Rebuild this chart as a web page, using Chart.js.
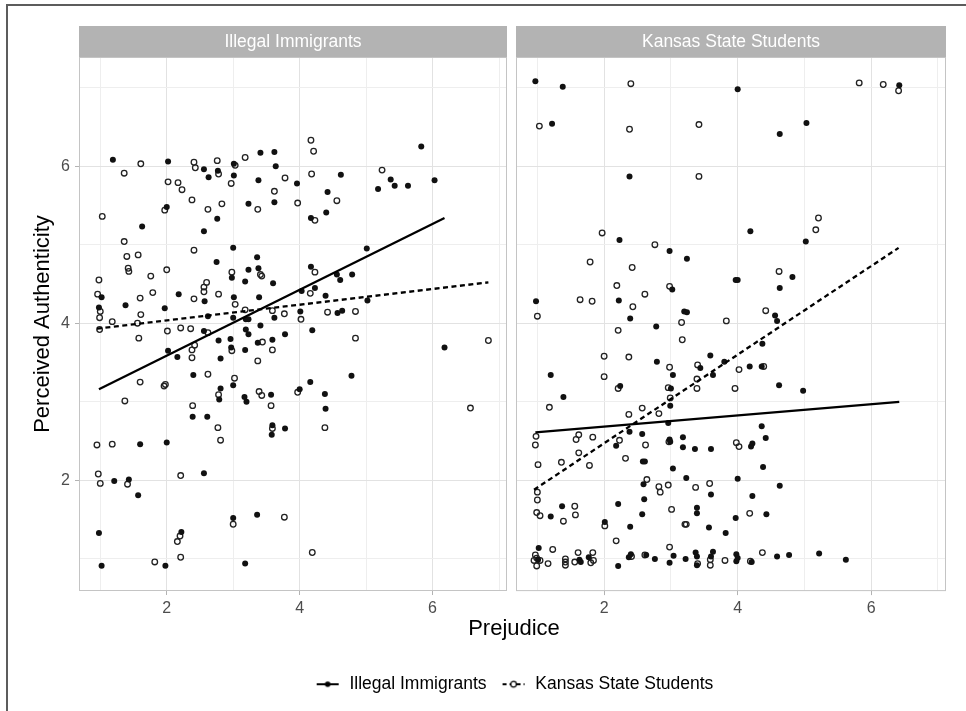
<!DOCTYPE html>
<html>
<head>
<meta charset="utf-8">
<script src="https://cdn.jsdelivr.net/npm/chart.js@4.4.1/dist/chart.umd.min.js"></script>
<style>
  html, body { margin: 0; padding: 0; background: #fff; }
  #wrap { position: relative; width: 966px; height: 711px; overflow: hidden; }
  #frame { position: absolute; left: 6px; top: 4px; width: 1000px; height: 800px;
           border-top: 2px solid #5c5c5c; border-left: 2px solid #5c5c5c; }
  canvas { position: absolute; left: 0; top: 0; }
</style>
</head>
<body>
<div id="wrap">
  <div id="frame"></div>
  <canvas id="leftPanel" width="966" height="711"></canvas>
  <canvas id="rightPanel" width="966" height="711"></canvas>
</div>
<script>
// facets and legend groups
const panelNames = ['Illegal Immigrants', 'Kansas State Students'];
const groupNames = ['Illegal Immigrants', 'Kansas State Students'];
const xTickLabels = [2, 4, 6];
const yTickLabels = [2, 4, 6];

// panel 1: Illegal Immigrants
const leftFilledX = [1.19,2.02,2.56,2.77,2.63,3.01,3.01,3.41,3.62,3.64,3.38,2.00,3.23,3.62,1.63,2.76,2.56,3.00,2.75,2.98,3.23,3.18,3.36,3.38,3.60,1.02,0.98,1.38,1.97,2.18,2.57,2.62,3.01,3.00,3.19,3.23,3.39,3.62,
  3.96,4.62,4.42,4.40,4.17,5.37,5.43,5.18,5.63,5.83,6.03,5.01,4.17,4.56,4.61,4.79,4.03,4.23,4.39,5.02,4.01,4.57,4.64,
  2.56,2.02,2.16,2.78,2.96,2.97,3.18,3.19,3.23,2.81,3.37,3.59,3.78,3.41,2.40,3.00,2.81,2.79,3.17,3.20,3.57,2.39,2.61,3.59,3.58,3.78,1.60,2.00,1.21,1.43,1.57,2.56,0.98,2.22,1.02,1.98,3.18,3.00,3.36,
  4.19,4.16,4.00,4.38,4.78,4.39,6.18];
const leftFilledY = [6.08,6.06,5.96,5.94,5.86,6.03,5.88,6.17,6.18,6.00,5.82,5.48,5.52,5.54,5.23,5.33,5.17,4.96,4.78,4.58,4.68,4.53,4.84,4.70,4.51,4.33,4.20,4.23,4.19,4.37,4.28,4.09,4.33,4.07,4.05,4.05,4.33,4.07,
  5.78,5.89,5.67,5.41,5.34,5.83,5.75,5.71,5.75,6.25,5.82,4.95,4.72,4.62,4.55,4.62,4.41,4.45,4.35,4.29,4.15,4.13,4.16,
  3.90,3.65,3.57,3.78,3.80,3.69,3.66,3.92,3.86,3.55,3.75,3.79,3.86,3.97,3.34,3.21,3.17,3.03,3.06,3.00,3.09,2.81,2.81,2.70,2.58,2.66,2.46,2.48,1.99,2.01,1.81,2.09,1.33,1.34,0.91,0.91,0.94,1.52,1.56,
  3.91,3.25,3.16,3.10,3.33,2.91,3.69];
const leftOpenX = [1.36,1.61,2.41,2.43,2.78,2.76,3.03,3.18,3.78,2.97,3.62,2.02,2.17,2.23,2.38,1.97,2.62,2.83,3.37,1.03,1.36,1.40,1.57,1.42,1.43,1.76,2.00,2.41,2.98,3.41,3.43,0.98,0.96,1.00,0.99,1.18,1.60,1.61,1.56,1.79,2.41,2.56,2.56,2.60,2.78,3.03,3.18,3.59,3.77,
  4.17,4.21,4.18,3.97,4.56,4.23,5.24,4.23,4.16,4.02,4.42,4.84,
  0.99,1.58,2.01,2.21,2.36,2.62,2.38,2.42,2.38,2.98,3.44,3.37,3.59,1.60,1.96,1.98,2.62,3.02,2.78,3.39,3.43,3.57,1.37,2.39,2.77,2.81,3.59,0.95,1.18,0.97,1.00,1.41,2.21,2.20,2.16,2.21,1.82,3.00,3.77,
  3.97,4.84,4.38,6.84,6.57,4.19];
const leftOpenY = [5.91,6.03,6.05,5.98,5.90,6.07,6.01,6.11,5.85,5.78,5.68,5.80,5.79,5.70,5.57,5.44,5.45,5.52,5.45,5.36,5.04,4.85,4.87,4.70,4.66,4.60,4.68,4.93,4.65,4.62,4.60,4.55,4.37,4.15,4.07,4.02,4.32,4.11,4.00,4.39,4.31,4.46,4.40,4.52,4.37,4.24,4.17,4.16,4.12,
  6.33,6.19,5.90,5.53,5.56,5.31,5.95,4.65,4.38,4.05,4.14,4.15,
  3.92,3.81,3.90,3.94,3.93,3.88,3.66,3.72,3.56,3.65,3.76,3.52,3.66,3.25,3.20,3.22,3.35,3.30,3.09,3.13,3.08,2.95,3.01,2.95,2.67,2.51,2.66,2.45,2.46,2.08,1.96,1.95,2.06,1.29,1.22,1.02,0.96,1.44,1.53,
  3.12,3.81,2.67,3.78,2.92,1.08];
// fitted lines (end points)
const leftSolidFitX = [0.98, 6.18];
const leftSolidFitY = [3.16, 5.34];
const leftDashFitX = [0.95, 6.84];
const leftDashFitY = [3.93, 4.52];

// panel 2: Kansas State Students
const rightFilledX = [0.97,1.38,4.00,6.42,1.22,4.63,5.03,2.38,4.19,5.02,2.23,2.98,3.24,4.82,3.97,4.00,4.63,3.02,0.98,2.22,
  2.39,2.78,3.20,3.24,4.56,4.59,4.37,2.79,3.03,3.44,3.59,3.80,3.63,4.18,4.36,4.62,4.98,2.24,3.00,2.99,1.20,1.39,2.96,4.36,2.38,2.57,2.18,2.98,2.99,3.18,3.18,3.36,3.60,4.22,4.20,4.42,2.58,2.61,3.03,4.38,3.23,4.00,2.59,4.63,2.60,3.60,4.22,1.20,1.37,2.21,2.01,2.39,2.57,3.39,3.39,3.57,3.97,4.43,3.82,
  1.02,1.01,1.63,1.65,1.77,2.21,2.37,2.40,2.63,2.76,2.98,3.04,3.22,3.37,3.39,3.39,3.60,3.63,3.98,4.00,3.98,4.21,4.59,4.77,5.22,5.62];
const rightFilledY = [7.08,7.01,6.98,7.03,6.54,6.41,6.55,5.87,5.17,5.04,5.06,4.92,4.82,4.59,4.55,4.55,4.45,4.43,4.28,4.29,
  4.06,3.96,4.15,4.14,4.10,4.03,3.74,3.51,3.34,3.43,3.59,3.51,3.34,3.45,3.45,3.21,3.14,3.20,3.17,2.95,3.34,3.06,2.73,2.69,2.62,2.59,2.44,2.52,2.49,2.55,2.42,2.40,2.40,2.47,2.43,2.54,2.24,2.24,2.15,2.17,2.03,2.02,1.95,1.93,1.76,1.82,1.80,1.54,1.67,1.70,1.47,1.41,1.57,1.65,1.58,1.40,1.52,1.57,1.33,
  1.14,0.99,0.99,0.96,1.02,0.91,1.02,1.06,1.05,1.00,0.95,1.04,1.00,1.08,1.03,0.92,1.03,1.09,1.06,1.01,0.97,0.96,1.03,1.05,1.07,0.99];
const rightOpenX = [2.40,5.82,6.18,6.41,1.03,2.38,3.42,3.42,5.21,5.17,1.97,2.76,1.79,2.42,4.62,2.19,2.98,2.61,1.64,1.82,2.43,
  1.00,3.16,3.17,3.83,4.42,2.21,2.00,2.37,2.98,3.40,3.39,4.02,4.39,2.00,2.21,2.96,2.99,3.39,3.96,1.18,2.37,2.57,2.82,0.98,0.97,1.62,1.58,1.83,2.23,2.62,2.97,3.98,4.02,1.62,1.01,1.36,1.78,2.32,2.64,2.96,2.82,2.84,3.37,3.58,1.00,1.00,0.99,1.04,1.56,1.57,1.39,2.01,3.01,3.21,3.23,4.18,2.18,2.98,
  0.97,0.99,0.95,1.04,0.99,1.16,1.23,1.42,1.42,1.42,1.56,1.61,1.80,1.83,1.84,2.41,2.61,3.40,3.59,3.59,3.81,4.19,4.37];
const rightOpenY = [7.05,7.06,7.04,6.96,6.51,6.47,6.53,5.87,5.34,5.19,5.15,5.00,4.78,4.71,4.66,4.48,4.47,4.37,4.30,4.28,4.21,
  4.09,4.01,3.79,4.03,4.16,3.91,3.58,3.57,3.44,3.47,3.29,3.41,3.45,3.32,3.17,3.18,3.05,3.17,3.17,2.93,2.84,2.92,2.85,2.56,2.45,2.58,2.52,2.55,2.51,2.45,2.49,2.48,2.43,2.35,2.20,2.23,2.19,2.28,2.01,1.94,1.92,1.85,1.91,1.96,1.85,1.75,1.59,1.55,1.67,1.56,1.48,1.42,1.63,1.44,1.44,1.58,1.23,1.15,
  1.05,1.01,0.98,0.98,0.91,0.94,1.12,1.00,0.96,0.92,0.96,1.08,0.95,1.08,0.98,1.03,1.05,0.94,0.99,0.92,0.98,0.97,1.08];
const rightSolidFitX = [0.97, 6.42];
const rightSolidFitY = [2.61, 3.00];
const rightDashFitX = [0.95, 6.41];
const rightDashFitY = [1.88, 4.96];

const X_MIN = 0.68, X_MAX = 7.12;
const Y_MIN = 0.59, Y_MAX = 7.39;

Chart.defaults.font.family = '"Liberation Sans", Arial, Helvetica, sans-serif';
Chart.defaults.color = '#4d4d4d';

const pts = (xs, ys) => xs.map((x, i) => ({x: x, y: ys[i]}));
const isMajor = v => v % 2 === 0;

function panelDatasets(filledX, filledY, openX, openY, solidX, solidY, dashX, dashY) {
  return [
    {label: groupNames[0] + ' fit', data: pts(solidX, solidY), showLine: true, borderColor: '#000',
     borderWidth: 2.3, pointRadius: 0, tension: 0},
    {label: groupNames[1] + ' fit', data: pts(dashX, dashY), showLine: true, borderColor: '#000',
     borderWidth: 2.3, borderDash: [5, 3.5], pointRadius: 0, tension: 0},
    {label: groupNames[0], data: pts(filledX, filledY), pointRadius: 3.0, backgroundColor: '#111',
     borderColor: '#111', borderWidth: 0},
    {label: groupNames[1], data: pts(openX, openY), pointRadius: 2.8, backgroundColor: 'rgba(0,0,0,0)',
     borderColor: '#222', borderWidth: 1.3}
  ];
}

function gridOpts(showTicks) {
  return {
    color: c => (c.tick && isMajor(c.tick.value)) ? '#e2e2e2' : '#eeeeee',
    lineWidth: 1,
    drawTicks: showTicks,
    tickLength: 4,
    tickWidth: 1,
    tickColor: c => (c.tick && isMajor(c.tick.value)) ? '#b3b3b3' : 'rgba(0,0,0,0)'
  };
}

function xScale() {
  return {
    type: 'linear', min: X_MIN, max: X_MAX,
    afterFit: s => { s.height = 25; },
    border: {display: false},
    grid: gridOpts(true),
    ticks: {stepSize: 1, includeBounds: false, autoSkip: false, maxRotation: 0, padding: 4,
            color: '#4d4d4d', font: {size: 16},
            callback: v => xTickLabels.includes(v) ? String(v) : ''}
  };
}

// grey strip on top of each panel and the panel border
const stripPlugin = {
  id: 'strip',
  afterDraw(chart, args, opts) {
    const {ctx, chartArea: a} = chart;
    ctx.save();
    ctx.fillStyle = '#b3b3b3';
    ctx.fillRect(a.left, 26, a.right - a.left, a.top - 26);
    ctx.fillStyle = '#fff';
    ctx.font = '17.5px "Liberation Sans", Arial, sans-serif';
    ctx.textAlign = 'center';
    ctx.textBaseline = 'middle';
    ctx.fillText(opts.text, (a.left + a.right) / 2, (26 + a.top) / 2 + 1);
    ctx.strokeStyle = '#c4c4c4';
    ctx.lineWidth = 1;
    ctx.strokeRect(a.left + 0.5, a.top + 0.5, a.right - a.left - 1, a.bottom - a.top - 1);
    ctx.restore();
  }
};

function legendKey(dashed) {
  const c = document.createElement('canvas');
  c.width = 24; c.height = 10;
  const g = c.getContext('2d');
  g.strokeStyle = '#000';
  g.lineWidth = 2;
  if (dashed) g.setLineDash([4, 3]);
  g.beginPath(); g.moveTo(1, 5); g.lineTo(23, 5); g.stroke();
  g.setLineDash([]);
  g.beginPath(); g.arc(12, 5, 2.8, 0, Math.PI * 2);
  if (dashed) { g.fillStyle = '#fff'; g.fill(); g.lineWidth = 1.2; g.stroke(); }
  else { g.fillStyle = '#000'; g.fill(); }
  return c;
}
const legendKeys = [legendKey(false), legendKey(true)];

new Chart(document.getElementById('leftPanel'), {
  type: 'scatter',
  data: {datasets: panelDatasets(leftFilledX, leftFilledY, leftOpenX, leftOpenY,
                                 leftSolidFitX, leftSolidFitY, leftDashFitX, leftDashFitY)},
  options: {
    responsive: false, animation: false, events: [],
    layout: {padding: {left: 30, right: 459, top: 57, bottom: 95}},
    scales: {
      x: xScale(),
      y: {
        type: 'linear', min: Y_MIN, max: Y_MAX,
        afterFit: s => { s.width = 49; },
        border: {display: false},
        grid: gridOpts(true),
        ticks: {stepSize: 1, includeBounds: false, autoSkip: false, padding: 5,
                color: '#4d4d4d', font: {size: 16},
                callback: v => yTickLabels.includes(v) ? String(v) : ''},
        title: {display: true, text: 'Perceived Authenticity', color: '#000',
                font: {size: 22}, padding: 0}
      }
    },
    plugins: {
      legend: {display: false},
      tooltip: {enabled: false},
      strip: {text: panelNames[0]}
    }
  },
  plugins: [stripPlugin]
});

new Chart(document.getElementById('rightPanel'), {
  type: 'scatter',
  data: {datasets: panelDatasets(rightFilledX, rightFilledY, rightOpenX, rightOpenY,
                                 rightSolidFitX, rightSolidFitY, rightDashFitX, rightDashFitY)},
  options: {
    responsive: false, animation: false, events: [],
    layout: {padding: {left: 82, right: 20, top: 57, bottom: 8}},
    scales: {
      x: xScale(),
      y: {
        type: 'linear', min: Y_MIN, max: Y_MAX,
        afterFit: s => { s.width = 434; },
        border: {display: false},
        grid: gridOpts(false),
        ticks: {display: false, stepSize: 1, includeBounds: false, autoSkip: false}
      }
    },
    plugins: {
      title: {display: true, position: 'bottom', text: 'Prejudice', color: '#000', weight: 500,
              font: {size: 22, weight: 'normal'}, padding: {top: 0, bottom: 19}},
      legend: {
        display: true, position: 'bottom', weight: 1000,
        labels: {
          usePointStyle: true, pointStyleWidth: 26, padding: 14, color: '#000',
          font: {size: 17.5},
          generateLabels: () => groupNames.map((name, i) => ({
            text: name, pointStyle: legendKeys[i], fillStyle: '#000', strokeStyle: '#000',
            lineWidth: 0, hidden: false, datasetIndex: i + 2, fontColor: '#000'
          }))
        }
      },
      tooltip: {enabled: false},
      strip: {text: panelNames[1]}
    }
  },
  plugins: [stripPlugin]
});
</script>
</body>
</html>
